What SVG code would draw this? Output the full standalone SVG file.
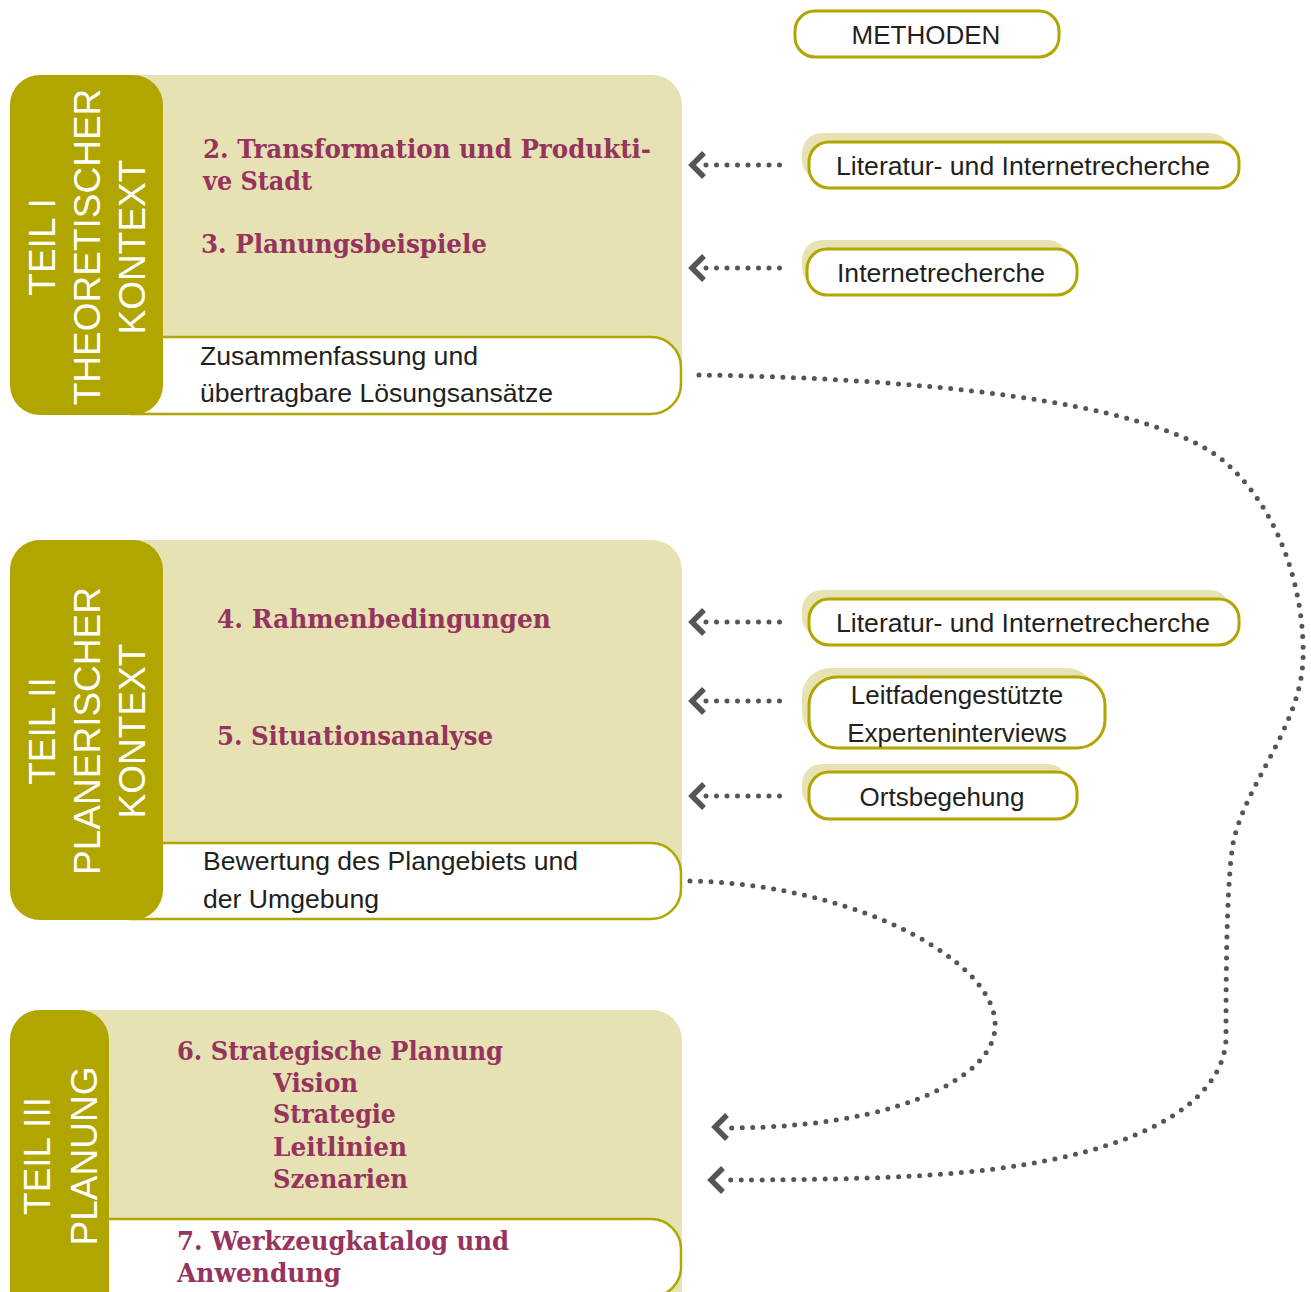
<svg xmlns="http://www.w3.org/2000/svg" xmlns:xlink="http://www.w3.org/1999/xlink" width="1311" height="1292" viewBox="0 0 1311 1292">
<style>
.panel{fill:#e6e2b3}
.bar{fill:#b1a500}
.wbox{fill:#fff;stroke:#b1a500;stroke-width:2.5}
.shadow{fill:#e6e2b3}
.mbox{fill:#fff;stroke:#b1a500;stroke-width:3}
.vt{font-family:"Liberation Sans",Arial,sans-serif;font-size:37px;fill:#fff;text-anchor:middle}
.hd{font-family:"DejaVu Serif Condensed","DejaVu Serif",serif;font-stretch:condensed;font-weight:bold;font-size:26px;fill:#96335f}
.tx{font-family:"Liberation Sans",Arial,sans-serif;font-size:25px;fill:#231f20}
.mt{font-family:"Liberation Sans",Arial,sans-serif;font-size:26px;fill:#231f20;text-anchor:middle}
.dot{fill:none;stroke:#555;stroke-width:5;stroke-linecap:round;stroke-dasharray:0 10.5}
.chev{fill:none;stroke:#555;stroke-width:5.5;stroke-linejoin:miter}
</style>
<defs>
<path id="chev" d="M12,-12 L0,0 L12,12"/>
</defs>

<g id="teil1">
<path class="panel" d="M10,105 A30,30 0 0 1 40,75 H652 A30,30 0 0 1 682,105 V380 H10 Z"/>
<rect class="wbox" x="100" y="337" width="581" height="77" rx="30"/>
<rect class="bar" x="10" y="75" width="153" height="340" rx="30"/>
<text class="vt" transform="translate(55,247) rotate(-90)">TEIL I</text>
<text class="vt" transform="translate(100,247) rotate(-90)">THEORETISCHER</text>
<text class="vt" transform="translate(145,247) rotate(-90)">KONTEXT</text>
<text class="hd" x="203" y="158" textLength="448" lengthAdjust="spacingAndGlyphs">2. Transformation und Produkti-</text>
<text class="hd" x="203" y="190" textLength="109" lengthAdjust="spacingAndGlyphs">ve Stadt</text>
<text class="hd" x="201" y="253" textLength="286" lengthAdjust="spacingAndGlyphs">3. Planungsbeispiele</text>
<text class="tx" x="200" y="365" textLength="278" lengthAdjust="spacingAndGlyphs">Zusammenfassung und</text>
<text class="tx" x="200" y="402" textLength="353" lengthAdjust="spacingAndGlyphs">übertragbare Lösungsansätze</text>
</g>

<g id="teil2">
<path class="panel" d="M10,570 A30,30 0 0 1 40,540 H652 A30,30 0 0 1 682,570 V880 H10 Z"/>
<rect class="wbox" x="100" y="843" width="581" height="76" rx="30"/>
<rect class="bar" x="10" y="540" width="153" height="380" rx="30"/>
<text class="vt" transform="translate(55,731) rotate(-90)">TEIL II</text>
<text class="vt" transform="translate(100,731) rotate(-90)">PLANERISCHER</text>
<text class="vt" transform="translate(145,731) rotate(-90)">KONTEXT</text>
<text class="hd" x="217" y="628" textLength="334" lengthAdjust="spacingAndGlyphs">4. Rahmenbedingungen</text>
<text class="hd" x="217" y="745" textLength="276" lengthAdjust="spacingAndGlyphs">5. Situationsanalyse</text>
<text class="tx" x="203" y="870" textLength="375" lengthAdjust="spacingAndGlyphs">Bewertung des Plangebiets und</text>
<text class="tx" x="203" y="908" textLength="176" lengthAdjust="spacingAndGlyphs">der Umgebung</text>
</g>

<g id="teil3">
<path class="panel" d="M10,1040 A30,30 0 0 1 40,1010 H652 A30,30 0 0 1 682,1040 V1292 H10 Z"/>
<rect class="wbox" x="40" y="1219" width="641" height="78" rx="30"/>
<rect class="bar" x="10" y="1010" width="99" height="320" rx="30"/>
<text class="vt" transform="translate(50,1156) rotate(-90)">TEIL III</text>
<text class="vt" transform="translate(97,1156) rotate(-90)">PLANUNG</text>
<text class="hd" x="177" y="1060" textLength="326" lengthAdjust="spacingAndGlyphs">6. Strategische Planung</text>
<text class="hd" x="273" y="1092" textLength="85" lengthAdjust="spacingAndGlyphs">Vision</text>
<text class="hd" x="273" y="1123" textLength="123" lengthAdjust="spacingAndGlyphs">Strategie</text>
<text class="hd" x="273" y="1156" textLength="134" lengthAdjust="spacingAndGlyphs">Leitlinien</text>
<text class="hd" x="273" y="1188" textLength="135" lengthAdjust="spacingAndGlyphs">Szenarien</text>
<text class="hd" x="177" y="1250" textLength="332" lengthAdjust="spacingAndGlyphs">7. Werkzeugkatalog und</text>
<text class="hd" x="177" y="1282" textLength="164" lengthAdjust="spacingAndGlyphs">Anwendung</text>
</g>

<g id="methoden">
<rect class="mbox" x="795" y="11" width="264" height="46" rx="20"/>
<text class="mt" x="926" y="44">METHODEN</text>
</g>

<g id="m1">
<rect class="shadow" x="802" y="133" width="428" height="47" rx="20"/>
<rect class="mbox" x="809" y="142" width="430" height="46" rx="20"/>
<text class="mt" x="1023" y="175" textLength="374" lengthAdjust="spacingAndGlyphs">Literatur- und Internetrecherche</text>
</g>
<g id="m2">
<rect class="shadow" x="802" y="240" width="266" height="47" rx="20"/>
<rect class="mbox" x="807" y="249" width="270" height="46" rx="20"/>
<text class="mt" x="941" y="282" textLength="208" lengthAdjust="spacingAndGlyphs">Internetrecherche</text>
</g>
<g id="m3">
<rect class="shadow" x="802" y="590" width="428" height="47" rx="20"/>
<rect class="mbox" x="809" y="599" width="430" height="46" rx="20"/>
<text class="mt" x="1023" y="632" textLength="374" lengthAdjust="spacingAndGlyphs">Literatur- und Internetrecherche</text>
</g>
<g id="m4">
<rect class="shadow" x="802" y="668" width="293" height="72" rx="28"/>
<rect class="mbox" x="809" y="677" width="296" height="71" rx="28"/>
<text class="mt" x="957" y="704">Leitfadengestützte</text>
<text class="mt" x="957" y="742">Experteninterviews</text>
</g>
<g id="m5">
<rect class="shadow" x="802" y="764" width="266" height="46" rx="20"/>
<rect class="mbox" x="809" y="772" width="268" height="47" rx="20"/>
<text class="mt" x="942" y="806">Ortsbegehung</text>
</g>

<g id="connectors">
<line class="dot" x1="706" y1="165" x2="784" y2="165"/>
<use href="#chev" xlink:href="#chev" class="chev" x="692" y="165"/>
<line class="dot" x1="706" y1="268" x2="784" y2="268"/>
<use href="#chev" xlink:href="#chev" class="chev" x="692" y="268"/>
<line class="dot" x1="706" y1="622" x2="784" y2="622"/>
<use href="#chev" xlink:href="#chev" class="chev" x="692" y="622"/>
<line class="dot" x1="706" y1="701" x2="784" y2="701"/>
<use href="#chev" xlink:href="#chev" class="chev" x="692" y="701"/>
<line class="dot" x1="706" y1="796" x2="784" y2="796"/>
<use href="#chev" xlink:href="#chev" class="chev" x="692" y="796"/>
<path class="dot" d="M699,375 C900,378 1150,398 1225,462 C1285,515 1305,600 1303,660 C1300,730 1240,790 1232,850 C1226,900 1226,990 1226,1040 C1222,1100 1150,1140 1050,1160 C980,1174 900,1180 720,1180"/>
<use href="#chev" xlink:href="#chev" class="chev" x="711" y="1180"/>
<path class="dot" d="M690,881 C820,884 930,930 975,980 C1005,1015 1000,1045 970,1070 C920,1110 830,1128 724,1128"/>
<use href="#chev" xlink:href="#chev" class="chev" x="715" y="1127"/>
</g>
</svg>
